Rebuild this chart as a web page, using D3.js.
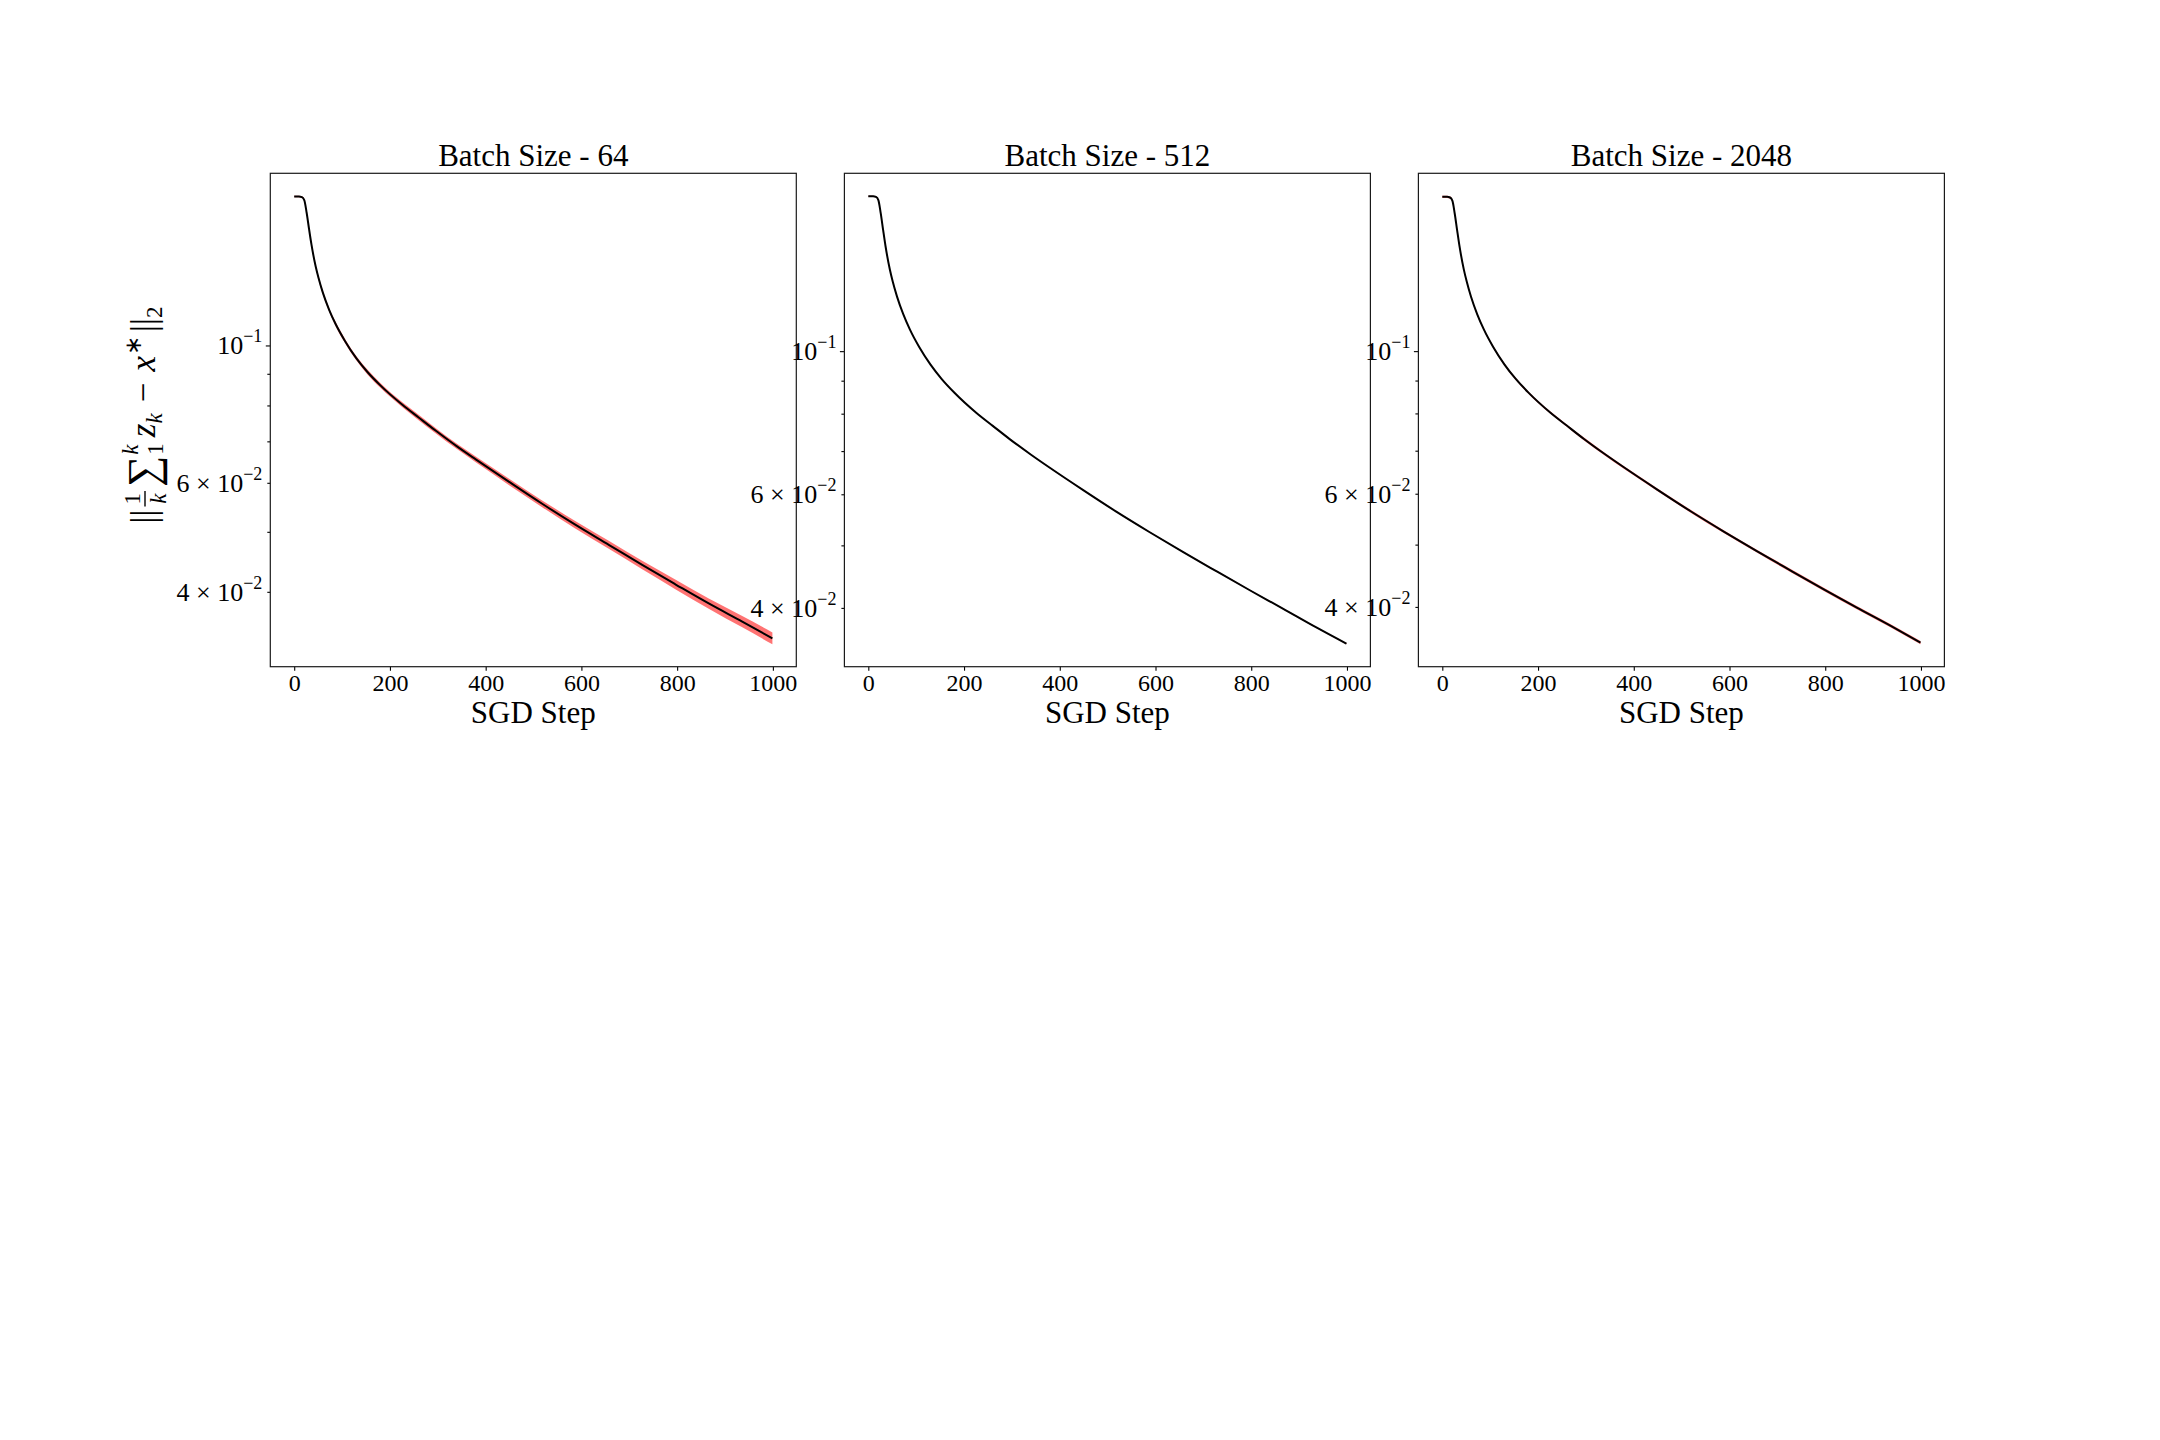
<!DOCTYPE html>
<html>
<head>
<meta charset="utf-8">
<script src="https://cdn.jsdelivr.net/npm/d3@7"></script>
<style>
  body { margin: 0; background: #fff; }
  svg text { font-family: "Liberation Serif", "Times New Roman", serif; fill: #000; }
</style>
</head>
<body>
<script>
const width = 2160;
const height = 1440;

const steps = [0, 10, 16, 21, 26, 31, 36, 45, 51, 60, 73, 87, 106, 130, 153, 180, 226, 260, 296, 340, 380, 449, 518, 588, 658, 727, 797, 866, 936, 999];

// mean error per batch size
const mean64 = [0.1740, 0.1740, 0.1736, 0.1717, 0.1638, 0.1542, 0.1456, 0.1340, 0.1284, 0.1216, 0.1142, 0.1081, 0.1017, 0.0953, 0.0906, 0.0862, 0.0802, 0.0765, 0.0728, 0.0687, 0.0654, 0.0602, 0.0555, 0.0513, 0.0476, 0.0442, 0.0411, 0.0383, 0.0358, 0.03365];
const mean512 = [0.1738, 0.1738, 0.1734, 0.1715, 0.1635, 0.1540, 0.1454, 0.1338, 0.1282, 0.1215, 0.1141, 0.1080, 0.1016, 0.0953, 0.0906, 0.0862, 0.0802, 0.0766, 0.0730, 0.0691, 0.0659, 0.0609, 0.0564, 0.0524, 0.0488, 0.0456, 0.0426, 0.0399, 0.0373, 0.0352];
const mean2048 = [0.1738, 0.1738, 0.1734, 0.1715, 0.1636, 0.1541, 0.1455, 0.1339, 0.1283, 0.1215, 0.1141, 0.1080, 0.1016, 0.0953, 0.0906, 0.0862, 0.0802, 0.0766, 0.0730, 0.0691, 0.0659, 0.0609, 0.0564, 0.0524, 0.0488, 0.0456, 0.0426, 0.0399, 0.0374, 0.0352];

// relative half-width of the shaded band
const spread64 = [0.003, 0.003, 0.003, 0.004, 0.005, 0.005, 0.006, 0.006, 0.007, 0.007, 0.007, 0.008, 0.008, 0.008, 0.009, 0.009, 0.009, 0.010, 0.010, 0.010, 0.011, 0.012, 0.0125, 0.014, 0.015, 0.016, 0.018, 0.019, 0.021, 0.022];
const spread512 = [0.002, 0.002, 0.002, 0.002, 0.002, 0.002, 0.002, 0.002, 0.002, 0.002, 0.002, 0.002, 0.002, 0.002, 0.002, 0.002, 0.002, 0.002, 0.002, 0.002, 0.002, 0.002, 0.002, 0.002, 0.002, 0.002, 0.002, 0.002, 0.002, 0.002];
const spread2048 = [0.004, 0.004, 0.004, 0.004, 0.004, 0.004, 0.004, 0.004, 0.004, 0.004, 0.004, 0.004, 0.004, 0.004, 0.004, 0.004, 0.004, 0.004, 0.005, 0.005, 0.005, 0.005, 0.005, 0.005, 0.005, 0.006, 0.006, 0.006, 0.006, 0.006];

const titles = ["Batch Size - 64", "Batch Size - 512", "Batch Size - 2048"];
const xTicks = [0, 200, 400, 600, 800, 1000];
const yMajorTicks = [0.1];
const yMinorTicks = [0.04, 0.05, 0.06, 0.07, 0.08, 0.09];
const yTickValues = [0.1, 0.06, 0.04];
const yTickMantissa = ["", "6", "4"];
const yTickExponent = ["\u22121", "\u22122", "\u22122"];

// layout
const panelLeft = [270.3, 844.4, 1418.4];
const panelW = 526;
const panelTop = 173.3;
const panelH = 493.4;

const svg = d3.select("body")
  .append("svg")
  .attr("width", width)
  .attr("height", height);

svg.append("rect")
  .attr("width", width)
  .attr("height", height)
  .attr("fill", "#fff");

const panels = [
  { title: titles[0], mean: mean64, spread: spread64 },
  { title: titles[1], mean: mean512, spread: spread512 },
  { title: titles[2], mean: mean2048, spread: spread2048 }
];

panels.forEach((p, i) => drawPanel(p, panelLeft[i], i === 0));

function drawPanel(p, left, withYLabel) {
  const rows = steps.map((s, j) => ({
    step: s,
    mean: p.mean[j],
    lo: p.mean[j] * (1 - p.spread[j]),
    hi: p.mean[j] * (1 + p.spread[j])
  }));

  // matplotlib-like 5% margins
  const xExt = d3.extent(steps);
  const xPad = (xExt[1] - xExt[0]) * 0.05;
  const x = d3.scaleLinear()
    .domain([xExt[0] - xPad, xExt[1] + xPad])
    .range([left, left + panelW]);

  const lmin = Math.log10(d3.min(rows, d => d.lo));
  const lmax = Math.log10(d3.max(rows, d => d.hi));
  const yPad = (lmax - lmin) * 0.05;
  const y = d3.scaleLog()
    .domain([Math.pow(10, lmin - yPad), Math.pow(10, lmax + yPad)])
    .range([panelTop + panelH, panelTop]);

  const g = svg.append("g");

  g.append("path")
    .datum(rows)
    .attr("fill", "#ff0000")
    .attr("fill-opacity", 0.55)
    .attr("d", d3.area()
      .x(d => x(d.step))
      .y0(d => y(d.lo))
      .y1(d => y(d.hi))
      .curve(d3.curveMonotoneX));

  g.append("path")
    .datum(rows)
    .attr("fill", "none")
    .attr("stroke", "#000")
    .attr("stroke-width", 2)
    .attr("d", d3.line()
      .x(d => x(d.step))
      .y(d => y(d.mean))
      .curve(d3.curveMonotoneX));

  // x axis
  const xAxis = g.append("g")
    .attr("transform", `translate(0,${panelTop + panelH})`)
    .call(d3.axisBottom(x).tickValues(xTicks).tickSize(4).tickPadding(2).tickFormat(d3.format("d")));
  xAxis.select(".domain").remove();
  xAxis.selectAll("line").attr("stroke", "#000").attr("stroke-width", 1.1);
  xAxis.selectAll("text")
    .attr("font-size", 24)
    .attr("dy", "0.75em")
    .style("font-family", "'Liberation Serif', serif");

  // y axis ticks (major + minor), labels drawn by hand for the exponents
  const yMajor = g.append("g")
    .attr("transform", `translate(${left},0)`)
    .call(d3.axisLeft(y).tickValues(yMajorTicks).tickSize(4.5).tickFormat(""));
  const yMinor = g.append("g")
    .attr("transform", `translate(${left},0)`)
    .call(d3.axisLeft(y).tickValues(yMinorTicks).tickSize(3).tickFormat(""));
  [yMajor, yMinor].forEach(a => {
    a.select(".domain").remove();
    a.selectAll("line").attr("stroke", "#000").attr("stroke-width", 1.1);
  });

  yTickValues.forEach((v, k) => {
    const t = g.append("text")
      .attr("x", left - 8)
      .attr("y", y(v) + 9)
      .attr("text-anchor", "end")
      .attr("font-size", 26)
      .style("white-space", "pre");
    const base = yTickMantissa[k] ? yTickMantissa[k] + " \u00d7 10" : "10";
    t.append("tspan").text(base);
    t.append("tspan")
      .attr("dy", -12)
      .attr("font-size", 18)
      .text(yTickExponent[k]);
  });

  // frame
  g.append("rect")
    .attr("x", left)
    .attr("y", panelTop)
    .attr("width", panelW)
    .attr("height", panelH)
    .attr("fill", "none")
    .attr("stroke", "#1a1a1a")
    .attr("stroke-width", 1.2);

  g.append("text")
    .attr("x", left + panelW / 2)
    .attr("y", 166)
    .attr("text-anchor", "middle")
    .attr("font-size", 31)
    .text(p.title);

  g.append("text")
    .attr("x", left + panelW / 2)
    .attr("y", 723)
    .attr("text-anchor", "middle")
    .attr("font-size", 31)
    .text("SGD Step");

  if (withYLabel) drawYLabel(155, panelTop + panelH / 2 - 5);
}

// ||1/k sum_1^k z_k - x*||_2 , laid out piece by piece
function drawYLabel(cx, cy) {
  const outer = svg.append("g").attr("transform", `translate(${cx},${cy}) rotate(-90)`);
  const g = outer.append("g");
  const parts = [
    { t: "||", size: 35, gap: 3 },
    { frac: true, num: "1", den: "k", size: 23, gap: 4 },
    { t: "\u2211", size: 44, dy: 3, gap: 1 },
    { script: true, sup: "k", sub: "1", size: 23, gap: 6 },
    { t: "z", size: 35, italic: true, gap: 0 },
    { t: "k", size: 23, italic: true, dy: 7, gap: 11 },
    { t: "\u2212", size: 35, gap: 11 },
    { t: "x", size: 35, italic: true, gap: 1 },
    { t: "\u2217", size: 23, dy: -14, gap: 4 },
    { t: "||", size: 35, gap: 0 },
    { t: "2", size: 23, dy: 7, gap: 0 }
  ];
  let pos = 0;
  parts.forEach(p => {
    if (p.frac) {
      const num = g.append("text").attr("font-size", p.size).attr("text-anchor", "middle").text(p.num);
      const den = g.append("text").attr("font-size", p.size).attr("font-style", "italic").attr("text-anchor", "middle").text(p.den);
      const w = Math.max(num.node().getComputedTextLength(), den.node().getComputedTextLength()) + 4;
      num.attr("x", pos + w / 2).attr("y", -15);
      den.attr("x", pos + w / 2).attr("y", 11);
      g.append("line")
        .attr("x1", pos).attr("x2", pos + w)
        .attr("y1", -10).attr("y2", -10)
        .attr("stroke", "#000").attr("stroke-width", 1.4);
      pos += w + p.gap;
    } else if (p.script) {
      const sup = g.append("text").attr("font-size", p.size).attr("font-style", "italic").attr("x", pos).attr("y", -17).text(p.sup);
      const sub = g.append("text").attr("font-size", p.size).attr("x", pos).attr("y", 8).text(p.sub);
      pos += Math.max(sup.node().getComputedTextLength(), sub.node().getComputedTextLength()) + p.gap;
    } else {
      const t = g.append("text")
        .attr("font-size", p.size)
        .attr("x", pos)
        .attr("y", p.dy || 0)
        .attr("font-style", p.italic ? "italic" : null)
        .text(p.t);
      pos += t.node().getComputedTextLength() + p.gap;
    }
  });
  g.attr("transform", `translate(${-pos / 2},0)`);
}
</script>
</body>
</html>
